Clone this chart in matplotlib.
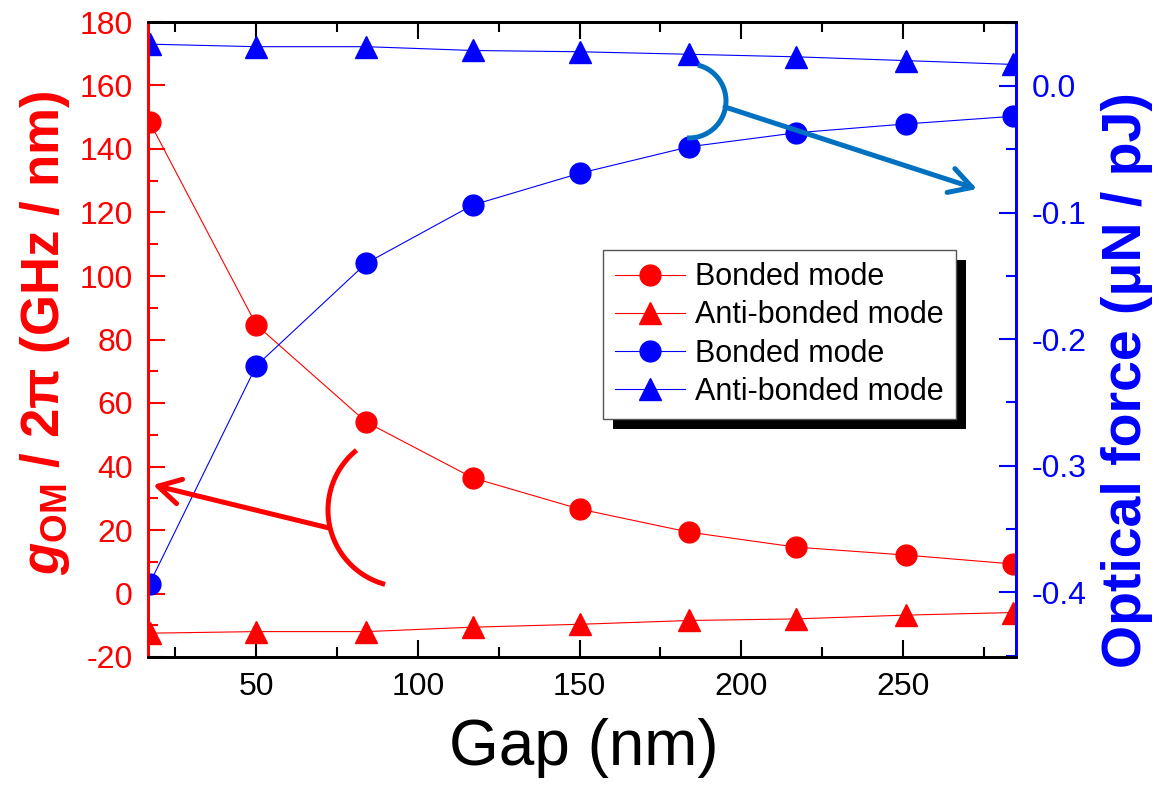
import numpy as np
import matplotlib
matplotlib.use('Agg')
import matplotlib.pyplot as plt
from matplotlib.lines import Line2D
from matplotlib.patches import FancyArrowPatch, Rectangle
from matplotlib.ticker import MultipleLocator, FixedLocator, FormatStrFormatter

plt.rcParams['font.family'] = ['Liberation Sans', 'DejaVu Sans']
plt.rcParams['axes.unicode_minus'] = False
plt.rcParams['mathtext.fontset'] = 'custom'
plt.rcParams['mathtext.rm'] = 'Liberation Sans:bold'
plt.rcParams['mathtext.bf'] = 'Liberation Sans:bold'
plt.rcParams['mathtext.it'] = 'Liberation Sans:italic:bold'

# data
gap = [17, 50, 84, 117, 150, 184, 217, 251, 284]
g_bonded = [148.5, 84.6, 54.0, 36.4, 26.6, 19.3, 14.6, 12.1, 9.3]
g_anti = [-12.5, -12.0, -12.0, -10.6, -9.7, -8.5, -8.0, -6.8, -6.0]
f_bonded = [-0.393, -0.221, -0.140, -0.094, -0.069, -0.048, -0.037, -0.030, -0.024]
f_anti = [0.033, 0.031, 0.031, 0.028, 0.027, 0.025, 0.023, 0.020, 0.017]
labels = ['Bonded mode', 'Anti-bonded mode', 'Bonded mode', 'Anti-bonded mode']

W, H = 1169, 788
fig = plt.figure(figsize=(W / 100, H / 100), dpi=100)
ax = fig.add_axes([148 / W, 1 - 657 / H, (1016 - 148) / W, (657 - 22) / H])
ax2 = ax.twinx()

ms_c, ms_t, lw = 15, 16, 0.8
l1, = ax.plot(gap, g_bonded, 'o-', color='red', ms=ms_c, lw=lw)
l2, = ax.plot(gap, g_anti, '^-', color='red', ms=ms_t, lw=lw)
l3, = ax2.plot(gap, f_bonded, 'o-', color='blue', ms=ms_c, lw=lw)
l4, = ax2.plot(gap, f_anti, '^-', color='blue', ms=ms_t, lw=lw)

ax.set_xlim(16.5, 285)
ax.set_ylim(-20, 180)
ax2.set_ylim(-0.451, 0.0505)

ax.xaxis.set_major_locator(MultipleLocator(50))
ax.xaxis.set_minor_locator(MultipleLocator(25))
ax.yaxis.set_major_locator(MultipleLocator(20))
ax.yaxis.set_minor_locator(MultipleLocator(10))
ax2.yaxis.set_major_locator(FixedLocator([-0.4, -0.3, -0.2, -0.1, 0.0]))
ax2.yaxis.set_minor_locator(FixedLocator([-0.45, -0.35, -0.25, -0.15, -0.05, 0.05]))
ax2.yaxis.set_major_formatter(FormatStrFormatter('%.1f'))

ax.tick_params(axis='x', which='both', direction='in', top=True, color='black',
               width=1.5, labelsize=23, pad=11)
ax.tick_params(axis='x', which='major', length=12)
ax.tick_params(axis='x', which='minor', length=7)
ax.tick_params(axis='y', which='both', direction='in', color='red', labelcolor='red',
               width=1.5, labelsize=23, pad=11)
ax.tick_params(axis='y', which='major', length=12)
ax.tick_params(axis='y', which='minor', length=7)
ax2.tick_params(axis='y', which='both', direction='in', color='blue', labelcolor='blue',
                width=1.5, labelsize=23, pad=11)
ax2.tick_params(axis='y', which='major', length=12)
ax2.tick_params(axis='y', which='minor', length=7)

for a in (ax, ax2):
    for s in a.spines.values():
        s.set_linewidth(2)
    a.spines['left'].set_color('red')
    a.spines['right'].set_color('blue')
    a.spines['top'].set_color('black')
    a.spines['bottom'].set_color('black')

ax.set_xlabel('Gap (nm)', fontsize=46)
ax.xaxis.set_label_coords((584 - 148) / 868, -(748 - 657) / 635)
ax.xaxis.label.set_va('center')
ax.set_ylabel(r'$\mathit{g}_{\mathrm{OM}}$ / 2π (GHz / nm)', fontsize=38,
              fontweight='bold', color='red', va='center')
ax.yaxis.set_label_coords(-(148 - 45) / 868, (657 - 333) / 635)
ax2.set_ylabel('Optical force (μN / pJ)', fontsize=40, fontweight='bold',
               color='blue', va='center', rotation=90)
ax2.yaxis.set_label_coords((1127 - 148) / 868, (657 - 380) / 635)

leg = ax2.legend([l1, l2, l3, l4], labels, loc='upper left',
                 bbox_to_anchor=((603 - 148) / 868, (657 - 250) / 635),
                 borderaxespad=0, fontsize=22, fancybox=False, framealpha=1,
                 edgecolor='#555555', handlelength=2.3, handletextpad=0.3,
                 labelspacing=0.27, borderpad=0.4)
leg.get_frame().set_linewidth(1)
leg.set_zorder(5)


def fp(px, py):
    return (px / W, 1 - py / H)


def arc(cx, cy, r, t1, t2, color):
    t = np.radians(np.linspace(t1, t2, 60))
    xs = (cx + r * np.cos(t)) / W
    ys = 1 - (cy - r * np.sin(t)) / H
    fig.add_artist(Line2D(xs, ys, transform=fig.transFigure, color=color,
                          lw=3.6, solid_capstyle='butt'))


def arrow(tail, head, color):
    fig.add_artist(FancyArrowPatch(fp(*tail), fp(*head), transform=fig.transFigure,
                                   arrowstyle='->,head_length=0.8,head_width=0.45',
                                   mutation_scale=20, color=color, lw=3.6,
                                   shrinkA=0, shrinkB=0))


arc(405, 510, 77, 129, 255, 'red')
arrow((329, 528), (153, 485), 'red')
steel = '#0070C0'
arc(689, 101, 37, -93, 76, steel)
arrow((725, 107), (977, 189), steel)

# legend shadow, offset 10 px right and down
fig.canvas.draw()
bb = leg.get_window_extent().transformed(fig.transFigure.inverted())
ax2.add_patch(Rectangle((bb.x0 + 10 / W, bb.y0 - 10 / H), bb.width, bb.height,
                        transform=fig.transFigure, facecolor='black',
                        edgecolor='none', zorder=4.5, clip_on=False))

fig.savefig('out.png', dpi=100)
